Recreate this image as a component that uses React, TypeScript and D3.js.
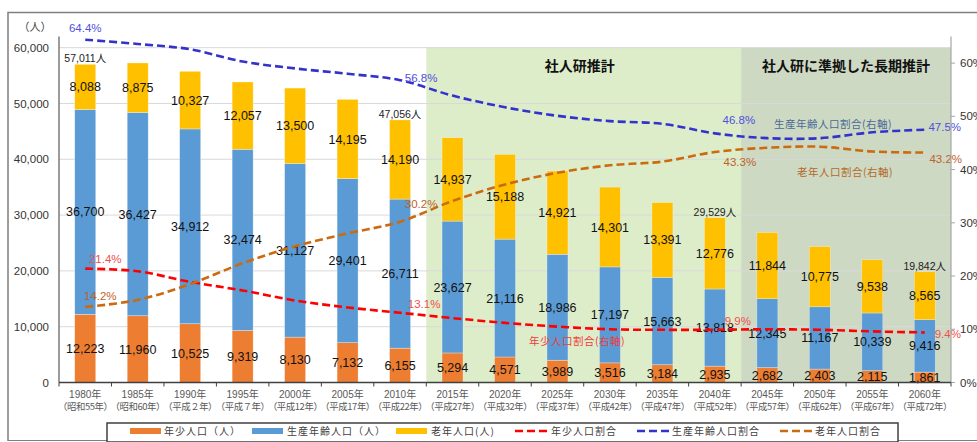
import React from "react";
import * as d3 from "d3";

const years = ["1980","1985","1990","1995","2000","2005","2010","2015","2020","2025","2030","2035","2040","2045","2050","2055","2060"];
const eras = ["（昭和55年）","（昭和60年）","（平成２年）","（平成７年）","（平成12年）","（平成17年）","（平成22年）","（平成27年）","（平成32年）","（平成37年）","（平成42年）","（平成47年）","（平成52年）","（平成57年）","（平成62年）","（平成67年）","（平成72年）"];
const young = [12223,11960,10525,9319,8130,7132,6155,5294,4571,3989,3516,3184,2935,2682,2403,2115,1861];
const working = [36700,36427,34912,32474,31127,29401,26711,23627,21116,18986,17197,15663,13818,12345,11167,10339,9416];
const elderly = [8088,8875,10327,12057,13500,14195,14190,14937,15188,14921,14301,13391,12776,11844,10775,9538,8565];
const youngRatio = [21.4,20.9,18.9,17.3,15.4,14.1,13.1,12.1,11.2,10.5,10.0,9.9,9.9,10.0,9.9,9.6,9.4];
const workingRatio = [64.4,63.6,62.6,60.3,59.0,58.0,56.8,53.9,51.7,50.1,49.1,48.6,46.8,45.9,45.9,47.0,47.5];
const elderlyRatio = [14.2,15.5,18.5,22.4,25.6,28.0,30.2,34.1,37.2,39.4,40.8,41.5,43.3,44.1,44.3,43.4,43.2];
const leftTicks = [0,10000,20000,30000,40000,50000,60000];
const rightTicks = [0,10,20,30,40,50,60];
const totalLabelYears = ["1980","2010","2040","2060"];

const FONT = '"Liberation Sans", Arial, "Noto Sans CJK JP", sans-serif';
const JFONT = '"Noto Sans CJK JP", "Liberation Sans", sans-serif';

const C_YOUNG = "#ED7D31";
const C_WORK = "#5B9BD5";
const C_OLD = "#FFC000";
const L_RED = "#FF0000";
const L_BLUE = "#3333CC";
const L_BROWN = "#CC6A10";

export default function App() {
  const W = 977, H = 442;
  const x0 = 59, x1 = 951, yBase = 382.5, yTop = 36.5;
  const xb = d3.scaleBand<string>().domain(years).range([x0, x1]).padding(0);
  const bw = xb.bandwidth() * 0.4;
  const xc = (y: string) => (xb(y) as number) + xb.bandwidth() / 2;
  const yL = d3.scaleLinear().domain([0, 62000]).range([yBase, yTop]);
  const yR = d3.scaleLinear().domain([0, 65]).range([yBase, yTop]);
  const fmt = d3.format(",");

  const line = d3.line<number>()
    .x((_, i) => xc(years[i]))
    .y((d) => yR(d))
    .curve(d3.curveCatmullRom.alpha(0.5));

  const shadeTop = yL(60000);
  const lightStart = xb("2015") as number;
  const darkStart = xb("2045") as number;

  const segs = years.map((yr, i) => {
    const a = young[i], b = working[i], c = elderly[i];
    return [
      { v: a, lo: 0, hi: a, color: C_YOUNG },
      { v: b, lo: a, hi: a + b, color: C_WORK },
      { v: c, lo: a + b, hi: a + b + c, color: C_OLD },
    ];
  });

  const pctLabels = [
    { t: "64.4%", i: 0, v: workingRatio[0], dx: 0, dy: -12, c: "#5050DD" },
    { t: "56.8%", i: 6, v: workingRatio[6], dx: 21, dy: -2, c: "#5050DD" },
    { t: "46.8%", i: 12, v: workingRatio[12], dx: 24, dy: -14, c: "#5050DD" },
    { t: "47.5%", i: 16, v: workingRatio[16], dx: 20, dy: -3, c: "#5050DD" },
    { t: "21.4%", i: 0, v: youngRatio[0], dx: 20, dy: -10, c: "#F04F4F" },
    { t: "13.1%", i: 6, v: youngRatio[6], dx: 24, dy: -9, c: "#F04F4F" },
    { t: "9.9%", i: 12, v: youngRatio[12], dx: 23, dy: -9, c: "#F04F4F" },
    { t: "9.4%", i: 16, v: youngRatio[16], dx: 23, dy: 1, c: "#F04F4F" },
    { t: "14.2%", i: 0, v: elderlyRatio[0], dx: 15, dy: -11, c: "#C0622A" },
    { t: "30.2%", i: 6, v: elderlyRatio[6], dx: 21, dy: -18, c: "#C0622A" },
    { t: "43.3%", i: 12, v: elderlyRatio[12], dx: 25, dy: 10, c: "#C0622A" },
    { t: "43.2%", i: 16, v: elderlyRatio[16], dx: 21, dy: 6, c: "#C0622A" },
  ];

  const legendItems = [
    { kind: "rect", color: C_YOUNG, text: "年少人口（人）", x: 130, tx: 164 },
    { kind: "rect", color: C_WORK, text: "生産年齢人口（人）", x: 252, tx: 287 },
    { kind: "rect", color: C_OLD, text: "老年人口(人)", x: 396, tx: 431 },
    { kind: "line", color: L_RED, text: "年少人口割合", x: 515, tx: 551 },
    { kind: "line", color: L_BLUE, text: "生産年齢人口割合", x: 637, tx: 672 },
    { kind: "line", color: L_BROWN, text: "老年人口割合", x: 780, tx: 815 },
  ];

  return (
    <svg width={W} height={H} style={{ position: "absolute", left: 0, top: 0, background: "#fff" }} fontFamily={FONT}>
      {/* outer frame */}
      <path d={`M8,441 L8,12.5 L977,12.5`} fill="none" stroke="#7F7F7F" strokeWidth={1.5} />
      <line x1={8} x2={977} y1={440.5} y2={440.5} stroke="#7F7F7F" strokeWidth={1} />

      {/* shaded regions */}
      <rect x={lightStart} y={shadeTop} width={darkStart - lightStart} height={yBase - shadeTop} fill="#DDEDCA" />
      <rect x={darkStart} y={shadeTop} width={x1 - darkStart} height={yBase - shadeTop} fill="#CDD9C3" />

      {/* gridlines */}
      {leftTicks.filter((t) => t > 0).map((t) => (
        <line key={t} x1={x0} x2={x1} y1={yL(t)} y2={yL(t)} stroke="#D9D9D9" strokeWidth={1} />
      ))}

      {/* bars */}
      {years.map((yr, i) => (
        <g key={yr}>
          {segs[i].map((s, k) => (
            <rect key={k} x={xc(yr) - bw / 2} y={yL(s.hi)} width={bw} height={yL(s.lo) - yL(s.hi)} fill={s.color} stroke="#ffffff" strokeOpacity={0.5} strokeWidth={0.6} />
          ))}
        </g>
      ))}

      {/* segment labels */}
      {years.map((yr, i) => (
        <g key={"l" + yr}>
          {segs[i].map((s, k) => (
            <text key={k} x={xc(yr)} y={(yL(s.lo) + yL(s.hi)) / 2} dy="0.36em" textAnchor="middle" fontSize={12.5} fill="#111">
              {fmt(s.v)}
            </text>
          ))}
        </g>
      ))}

      {/* total labels */}
      {years.map((yr, i) =>
        totalLabelYears.includes(yr) ? (
          <text key={"t" + yr} x={xc(yr)} y={yL(young[i] + working[i] + elderly[i]) - 2} textAnchor="middle" fontSize={10.5} fill="#222">
            {fmt(young[i] + working[i] + elderly[i])}
            <tspan fontFamily={JFONT}>人</tspan>
          </text>
        ) : null
      )}

      {/* ratio lines */}
      <path d={line(youngRatio) || ""} fill="none" stroke={L_RED} strokeWidth={2.6} strokeDasharray="8,4" />
      <path d={line(workingRatio) || ""} fill="none" stroke={L_BLUE} strokeWidth={2.6} strokeDasharray="8,4" />
      <path d={line(elderlyRatio) || ""} fill="none" stroke={L_BROWN} strokeWidth={2.6} strokeDasharray="8,4" />

      {/* percent labels */}
      {pctLabels.map((p) => (
        <text key={p.t + p.i + p.c} x={xc(years[p.i]) + p.dx} y={yR(p.v) + p.dy} dy="0.36em" textAnchor="middle" fontSize={11.5} fill={p.c}>
          {p.t}
        </text>
      ))}

      {/* region titles */}
      <text x={(lightStart + darkStart) / 2 - 4} y={66} dy="0.36em" textAnchor="middle" fontSize={14} fontWeight="bold" fontFamily={JFONT} fill="#111">社人研推計</text>
      <text x={(darkStart + x1) / 2} y={66} dy="0.36em" textAnchor="middle" fontSize={14} fontWeight="bold" fontFamily={JFONT} fill="#111">社人研に準拠した長期推計</text>

      {/* series annotations */}
      <text x={833} y={124} dy="0.36em" textAnchor="middle" fontSize={10.5} fontFamily={JFONT} fill="#4A6A96" letterSpacing={0.5}>生産年齢人口割合(右軸)</text>
      <text x={845} y={172} dy="0.36em" textAnchor="middle" fontSize={10.5} fontFamily={JFONT} fill="#B5682A" letterSpacing={0.5}>老年人口割合(右軸)</text>
      <text x={577} y={341} dy="0.36em" textAnchor="middle" fontSize={10.5} fontFamily={JFONT} fill="#F03A3A" letterSpacing={0.5}>年少人口割合(右軸)</text>

      {/* left axis */}
      <line x1={x0} x2={x0} y1={yTop} y2={yBase} stroke="#595959" strokeWidth={1.2} />
      {leftTicks.map((t) => (
        <text key={"lt" + t} x={49} y={yL(t)} dy="0.36em" textAnchor="end" fontSize={11.5} fill="#333">{fmt(t)}</text>
      ))}
      <text x={35} y={27} dy="0.36em" textAnchor="middle" fontSize={11} fontFamily={JFONT} fill="#444">（人）</text>

      {/* right axis */}
      <line x1={x1} x2={x1} y1={yTop} y2={yBase} stroke="#A6A6A6" strokeWidth={1.2} />
      {rightTicks.map((t) => (
        <g key={"rt" + t}>
          <line x1={x1} x2={x1 + 4} y1={yR(t)} y2={yR(t)} stroke="#A6A6A6" />
          <text x={x1 + 9} y={yR(t)} dy="0.36em" textAnchor="start" fontSize={11.5} fill="#333">{t}%</text>
        </g>
      ))}

      {/* x axis */}
      <line x1={x0} x2={x1} y1={yBase} y2={yBase} stroke="#404040" strokeWidth={1.5} />
      {years.map((yr) => (
        <line key={"xt" + yr} x1={xb(yr) as number} x2={xb(yr) as number} y1={yBase} y2={yBase + 4} stroke="#404040" />
      ))}
      <line x1={x1} x2={x1} y1={yBase} y2={yBase + 4} stroke="#404040" />
      {years.map((yr, i) => (
        <g key={"xl" + yr} fill="#595959" textAnchor="middle">
          <text x={xc(yr)} y={394} dy="0.36em" fontSize={10}>{yr}<tspan fontFamily={JFONT}>年</tspan></text>
          <text x={xc(yr)} y={406.5} dy="0.36em" fontSize={9.4} fontFamily={JFONT} letterSpacing={-0.4}>{eras[i]}</text>
        </g>
      ))}

      {/* legend */}
      <rect x={107} y={423} width={791} height={19} fill="#fff" stroke="#404040" strokeWidth={1.5} />
      {legendItems.map((l) => (
        <g key={l.text}>
          {l.kind === "rect" ? (
            <rect x={l.x} y={428} width={31} height={6} fill={l.color} />
          ) : (
            <line x1={l.x} x2={l.x + 32} y1={431} y2={431} stroke={l.color} strokeWidth={2.6} strokeDasharray="8,4" />
          )}
          <text x={l.tx} y={431.5} dy="0.36em" fontSize={10} fontFamily={JFONT} fill="#404040" letterSpacing={1}>{l.text}</text>
        </g>
      ))}
    </svg>
  );
}
